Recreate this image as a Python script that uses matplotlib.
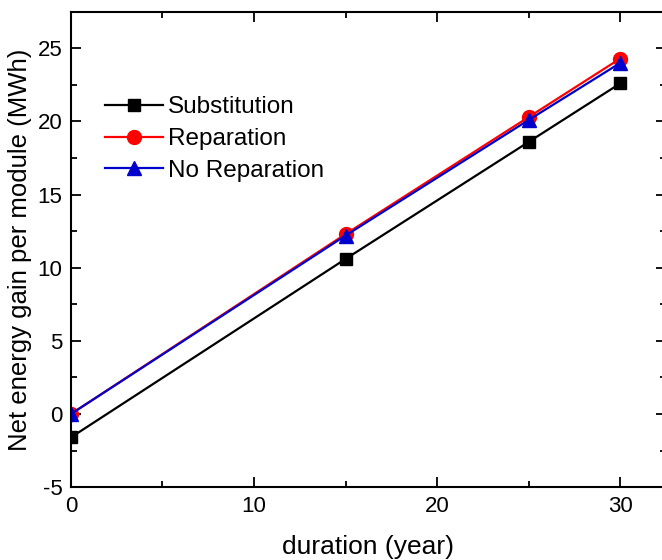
import matplotlib
matplotlib.use('Agg')
import matplotlib.pyplot as plt
from matplotlib.ticker import MultipleLocator

plt.rcParams['font.family'] = ['Liberation Sans', 'DejaVu Sans']
plt.rcParams['axes.unicode_minus'] = False

# data
years = [0, 15, 25, 30]
substitution = [-1.6, 10.6, 18.6, 22.6]
reparation = [0.0, 12.3, 20.3, 24.3]
no_reparation = [0.0, 12.2, 20.1, 24.0]

fig = plt.figure(figsize=(6.62, 5.6), dpi=100)
ax = fig.add_axes([0.107, 0.130, 0.899, 0.849])

ax.plot(years, substitution, '-s', color='black', lw=1.6, ms=9, label='Substitution')
ax.plot(years, reparation, '-o', color='red', lw=1.6, ms=10, label='Reparation')
ax.plot(years, no_reparation, '-^', color='#0000cc', lw=1.6, ms=10, label='No Reparation')

ax.set_xlim(0, 32.5)
ax.set_ylim(-5, 27.5)
ax.xaxis.set_major_locator(MultipleLocator(10))
ax.xaxis.set_minor_locator(MultipleLocator(5))
ax.yaxis.set_major_locator(MultipleLocator(5))
ax.yaxis.set_minor_locator(MultipleLocator(2.5))
ax.tick_params(which='both', direction='in', top=True, right=True, width=1.3, labelsize=16)
ax.tick_params(which='major', length=7, pad=6)
ax.tick_params(which='minor', length=4)
for s in ax.spines.values():
    s.set_linewidth(1.5)

ax.set_xlabel('duration (year)', fontsize=19, labelpad=13)
ax.set_ylabel('Net energy gain per module (MWh)', fontsize=18.5, labelpad=4)

ax.legend(loc='upper left', bbox_to_anchor=(0.057, 0.822), frameon=False, fontsize=17.5,
          handlelength=2.4, handletextpad=0.2, labelspacing=0.4, borderaxespad=0, borderpad=0)

fig.savefig('out.png', dpi=100)
